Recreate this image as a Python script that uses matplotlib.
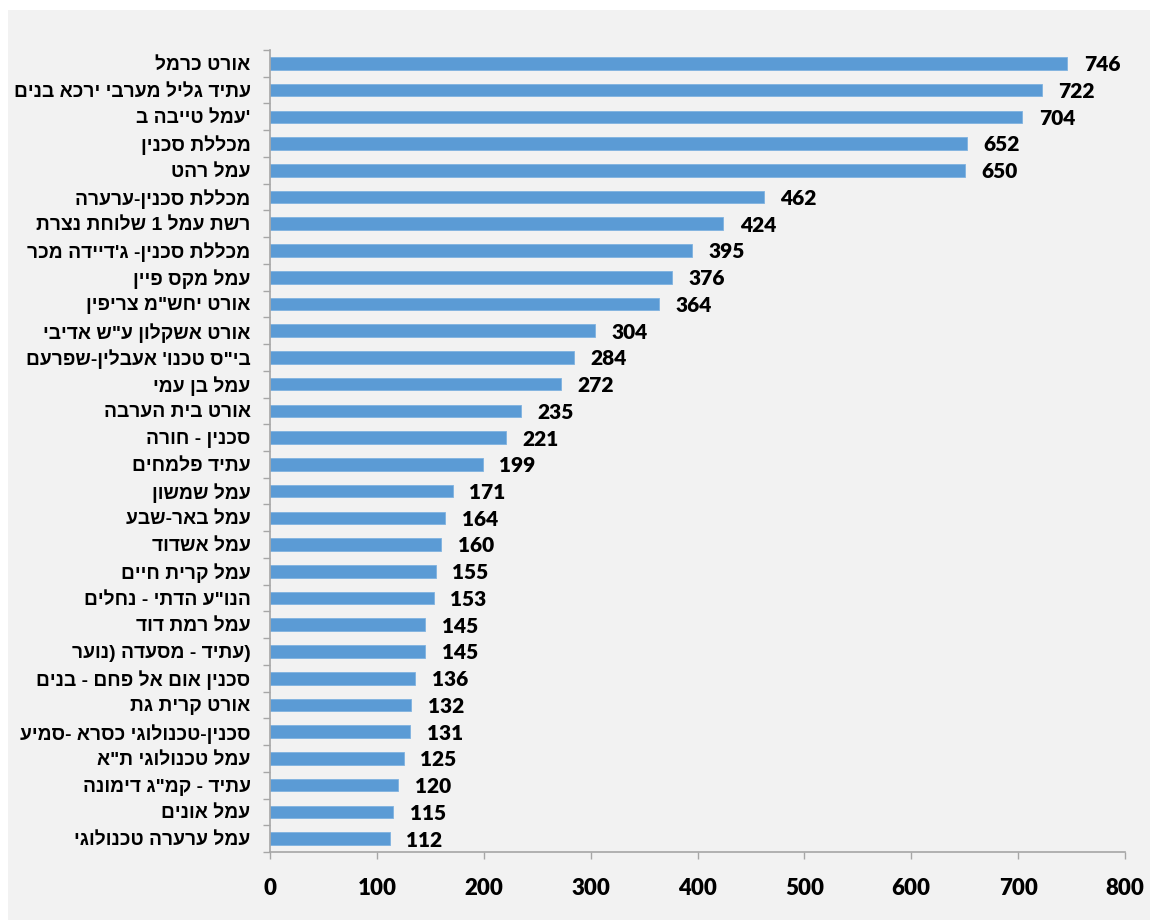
import matplotlib.pyplot as plt
from matplotlib.patches import Rectangle
import numpy as np

# labels in logical (reading) order, values as printed on the bars
schools = ['אורט כרמל', 'עתיד גליל מערבי ירכא בנים', "עמל טייבה ב'", 'מכללת סכנין', 'עמל רהט',
           'מכללת סכנין-ערערה', 'רשת עמל 1 שלוחת נצרת', "מכללת סכנין- ג'דיידה מכר", 'עמל מקס פיין',
           'אורט יחש"מ צריפין', 'אורט אשקלון ע"ש אדיבי', 'בי"ס טכנו\' אעבלין-שפרעם', 'עמל בן עמי',
           'אורט בית הערבה', 'סכנין - חורה', 'עתיד פלמחים', 'עמל שמשון', 'עמל באר-שבע', 'עמל אשדוד',
           'עמל קרית חיים', 'הנו"ע הדתי - נחלים', 'עמל רמת דוד', 'עתיד - מסעדה (נוער)',
           'סכנין אום אל פחם - בנים', 'אורט קרית גת', 'סכנין-טכנולוגי כסרא -סמיע', 'עמל טכנולוגי ת"א',
           'עתיד - קמ"ג דימונה', 'עמל אונים', 'עמל ערערה טכנולוגי']
values = [746, 722, 704, 652, 650, 462, 424, 395, 376, 364, 304, 284, 272, 235, 221, 199, 171, 164,
          160, 155, 153, 145, 145, 136, 132, 131, 125, 120, 115, 112]
x_ticks = [0, 100, 200, 300, 400, 500, 600, 700, 800]


def visual(s):
    # tiny bidi pass for a left-to-right line (matplotlib has none):
    # hebrew runs get reversed, edge punctuation stays on the LTR side
    kind = []
    for c in s:
        if '\u0590' <= c <= '\u05ff':
            kind.append('R')
        elif c.isdigit():
            kind.append('EN')
        elif c.isalpha():
            kind.append('L')
        else:
            kind.append('N')
    strong = ['R' if k in ('R', 'EN') else k for k in kind]
    levels = [0] * len(s)
    i = 0
    while i < len(s):
        if kind[i] != 'N':
            levels[i] = {'R': 1, 'EN': 2, 'L': 0}[kind[i]]
            i += 1
            continue
        j = i
        while j < len(s) and kind[j] == 'N':
            j += 1
        prev = strong[i - 1] if i > 0 else 'L'
        nxt = strong[j] if j < len(s) else 'L'
        lvl = 1 if (prev == 'R' and nxt == 'R') else 0
        for k in range(i, j):
            levels[k] = lvl
        i = j
    mirror = {'(': ')', ')': '(', '[': ']', ']': '['}
    chars = [mirror.get(c, c) if levels[n] % 2 else c for n, c in enumerate(s)]
    order = list(range(len(s)))
    for lvl in range(max(levels), 0, -1):
        n = 0
        while n < len(order):
            if levels[order[n]] >= lvl:
                m = n
                while m < len(order) and levels[order[m]] >= lvl:
                    m += 1
                order[n:m] = order[n:m][::-1]
                n = m
            else:
                n += 1
    return ''.join(chars[k] for k in order)


bar_color = '#5B9BD5'
grey = '#A6A6A6'
heb_font = ['Liberation Sans', 'DejaVu Sans']
num_font = ['Lato', 'DejaVu Sans']

fig = plt.figure(figsize=(11.54, 9.24), dpi=100)
fig.patch.set_facecolor('white')
fig.add_artist(Rectangle((8 / 1154, 4 / 924), 1142 / 1154, 910 / 924, transform=fig.transFigure,
                         facecolor='#F2F2F2', edgecolor='none', zorder=-10))

ax = fig.add_axes([270 / 1154, 72 / 924, 855 / 1154, 802 / 924])
ax.set_facecolor('#F2F2F2')

y = np.arange(len(schools))
ax.barh(y, values, height=0.47, color=bar_color, edgecolor='#7FB2E0', linewidth=0.6, zorder=2)

for yi, v in zip(y, values):
    ax.annotate(str(v), (v, yi), xytext=(12, -1), textcoords='offset points', ha='left', va='center',
                fontsize=15, fontweight='heavy', family=num_font)

ax.set_xlim(0, 800)
ax.set_ylim(len(schools) - 0.5, -0.5)

ax.set_xticks(x_ticks)
ax.set_xticklabels([str(t) for t in x_ticks], fontsize=16, fontweight='heavy', family=num_font)
ax.tick_params(axis='x', direction='out', length=5, width=1, color=grey, pad=14)

ax.set_yticks(np.arange(len(schools) + 1) - 0.5)
ax.set_yticklabels([])
ax.tick_params(axis='y', which='major', direction='out', length=5, width=1, color=grey)
ax.set_yticks(y, minor=True)
ax.set_yticklabels([visual(s) for s in schools], minor=True, fontsize=13.9, fontweight='bold',
                   family=heb_font)
ax.tick_params(axis='y', which='minor', length=0, pad=14)

for side in ['top', 'right']:
    ax.spines[side].set_visible(False)
for side in ['left', 'bottom']:
    ax.spines[side].set_color(grey)
    ax.spines[side].set_linewidth(1.2)

fig.savefig('out.png', dpi=100, facecolor=fig.get_facecolor())
